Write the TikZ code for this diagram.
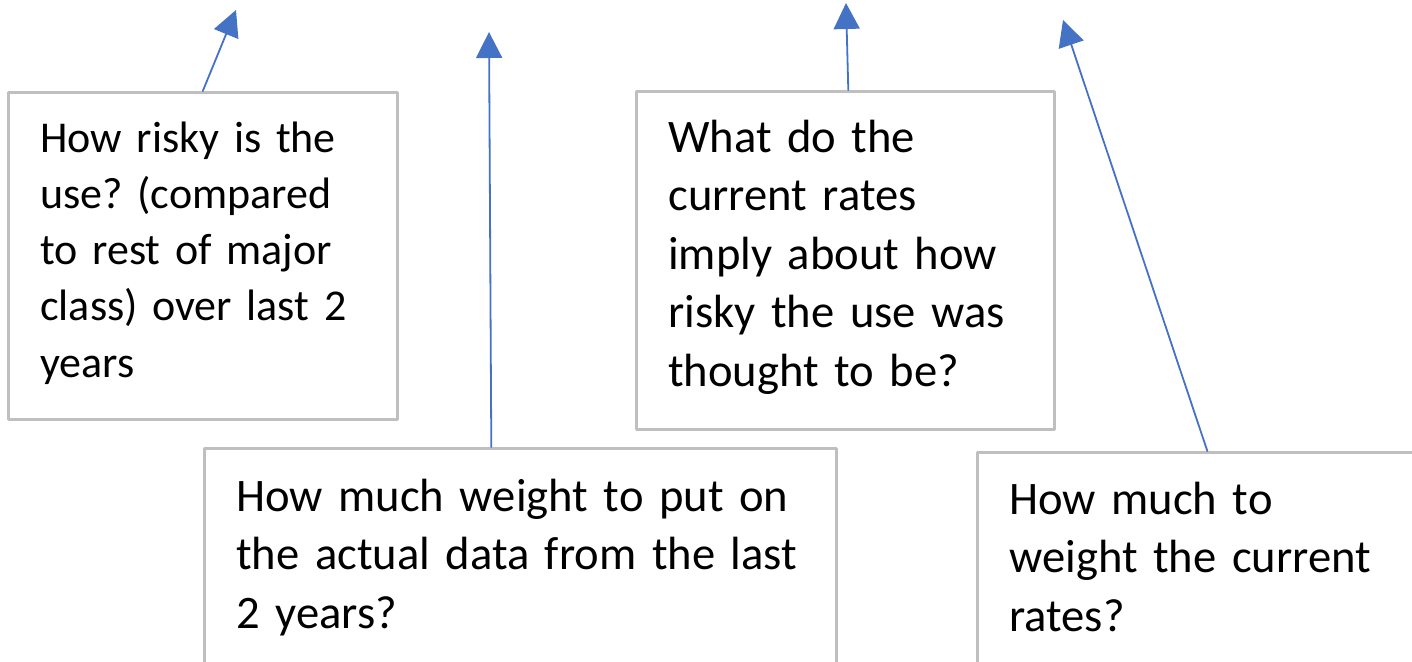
\documentclass[tikz,border=0pt]{standalone}
\usepackage{fontspec}
\setmainfont{Carlito}
\usepackage{tikz}
\usetikzlibrary{arrows.meta}

\definecolor{boxgray}{HTML}{BFBFBF}
\definecolor{arrowblue}{HTML}{4472C4}
\frenchspacing

\begin{document}
\begin{tikzpicture}[
			x=0.5pt, y=-0.5pt,
			qbox/.style={draw=boxgray, line width=1.3pt, anchor=north west,
				align=left, inner xsep=16pt, inner ysep=0pt,
				font=\fontsize{23.3}{29.25}\selectfont},
			uparrow/.style={-{Triangle[length=13pt,width=13pt]}, draw=arrowblue,
				fill=arrowblue, line width=0.9pt},
			line cap=round,
			line join=round
			]
			\useasboundingbox (0,0) rectangle (1412,662);
			
			% Question boxes
			\node[qbox, text width=162.5pt, text height=30pt, text depth=133.5pt,
				font=\fontsize{22}{28.1}\selectfont] (risky) at (7,91)
				{How risky is the\\ use? (compared\\ to rest of major\\ class) over last 2\\ years};
			\node[qbox, text width=284pt, text height=31.5pt, text depth=140pt] (weight) at (203,447)
				{How much weight to put on\\ the actual data from the last\\ 2 years?};
			\node[qbox, text width=177pt, text height=30.5pt, text depth=138.5pt] (imply) at (635,90)
				{What do the\\ current rates\\ imply about how\\ risky the use was\\ thought to be?};
			\node[qbox, text width=198pt, text height=31pt, text depth=140pt] (rates) at (976,451)
				{How much to\\ weight the current\\ rates?};
			
			% Arrow tips
			\coordinate (riskyTip) at (236,10);
			\coordinate (weightTip) at (489,32);
			\coordinate (implyTip) at (846,3);
			\coordinate (ratesTip) at (1063,20);
			
			% Arrows
			\draw[uparrow] (risky.north) -- (riskyTip);
			\draw[uparrow] ([xshift=-14.5pt]weight.north) -- (weightTip);
			\draw[uparrow] ([xshift=1.5pt]imply.north) -- (implyTip);
			\draw[uparrow] (rates.north) -- (ratesTip);
		\end{tikzpicture}
\end{document}
